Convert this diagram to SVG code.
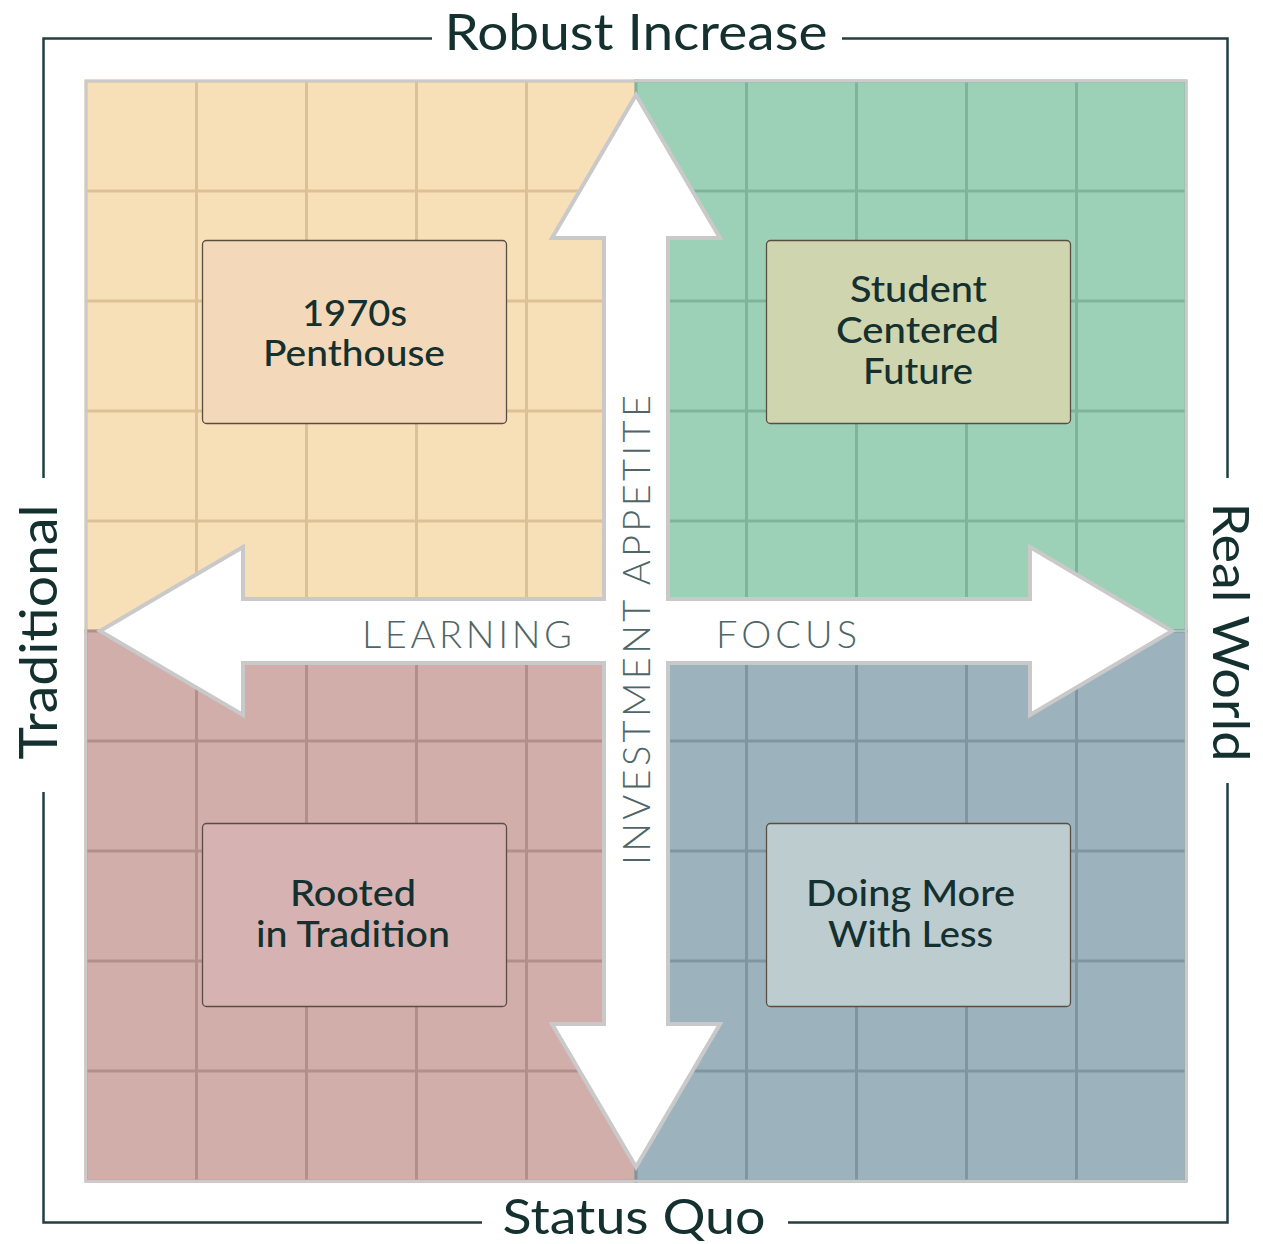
<svg xmlns="http://www.w3.org/2000/svg" width="1263" height="1244" viewBox="0 0 1263 1244">
  <style>
    .frame { fill: none; stroke: #233f41; stroke-width: 2.5; }
    .axis { font-family: Lato, "Open Sans", sans-serif; font-size: 51px; fill: #14302f; }
    .side { font-family: Lato, "Open Sans", sans-serif; font-size: 53px; fill: #14302f; }
    .mid { font-family: Lato, "Open Sans", sans-serif; font-weight: 300; font-size: 38px; fill: #4f6668; }
    .box { stroke: #5a4d42; stroke-width: 1.3; }
    .lbl { font-family: Lato, "Open Sans", sans-serif; font-weight: 500; font-size: 36px; fill: #14302f; text-anchor: middle; }
    .gl { fill: none; stroke-width: 3; }
  </style>
  <rect width="1263" height="1244" fill="#ffffff"/>

  <g id="frame">
    <path class="frame" d="M432 38.5 H43.5 V478 M43.5 792 V1222.5 H482 M788 1222.5 H1227.5 V783 M1227.5 478 V38.5 H842"/>
  </g>

  <g id="quadrant-tl">
    <rect x="86" y="81" width="550" height="550" fill="#f7dfb7" stroke="#dcc197" stroke-width="3"/>
    <path class="gl" stroke="#dcc197" d="M196.5 81V631M306.5 81V631M416.5 81V631M526.5 81V631M86 191H636M86 301H636M86 411H636M86 521H636"/>
  </g>
  <g id="quadrant-tr">
    <rect x="636" y="81" width="550" height="550" fill="#9dd1b7" stroke="#80b39b" stroke-width="3"/>
    <path class="gl" stroke="#80b39b" d="M746.5 81V631M856.5 81V631M966.5 81V631M1076.5 81V631M636 191H1186M636 301H1186M636 411H1186M636 521H1186"/>
  </g>
  <g id="quadrant-bl">
    <rect x="86" y="631" width="550" height="550" fill="#d2aeab" stroke="#b38f8c" stroke-width="3"/>
    <path class="gl" stroke="#b38f8c" d="M196.5 631V1181M306.5 631V1181M416.5 631V1181M526.5 631V1181M86 741H636M86 851H636M86 961H636M86 1071H636"/>
  </g>
  <g id="quadrant-br">
    <rect x="636" y="631" width="550" height="550" fill="#9cb3be" stroke="#80969f" stroke-width="3"/>
    <path class="gl" stroke="#80969f" d="M746.5 631V1181M856.5 631V1181M966.5 631V1181M1076.5 631V1181M636 741H1186M636 851H1186M636 961H1186M636 1071H1186"/>
  </g>
  <rect x="86" y="81" width="1100" height="1100" fill="none" stroke="#cacaca" stroke-width="2.5"/>
  <path d="M1172 631H1186" stroke="#cacaca" stroke-width="1.5"/>

  <g id="connectors">
    <path d="M636 95 L720 238 L668 238 L668 599 L1030 599 L1030 547 L1172 631 L1030 715 L1030 663 L668 663 L668 1024 L720 1024 L636 1167 L552 1024 L604 1024 L604 663 L243 663 L243 715 L100 631 L243 547 L243 599 L604 599 L604 238 L552 238 Z" fill="#ffffff" stroke="#c9c9c9" stroke-width="4" stroke-linejoin="miter"/>
  </g>

  <g id="axis-labels">
    <text class="axis" x="636" y="50" text-anchor="middle" textLength="383" lengthAdjust="spacingAndGlyphs">Robust Increase</text>
    <text class="axis" x="634" y="1233.5" text-anchor="middle" textLength="263" lengthAdjust="spacingAndGlyphs" style="font-size:49px">Status Quo</text>
    <text class="side" transform="translate(57,632) rotate(-90)" text-anchor="middle" textLength="255" lengthAdjust="spacingAndGlyphs">Traditional</text>
    <text class="side" transform="translate(1213,632) rotate(90)" text-anchor="middle" textLength="259" lengthAdjust="spacingAndGlyphs" style="font-size:50px">Real World</text>
    <text class="mid" x="467" y="648" text-anchor="middle" textLength="210" lengthAdjust="spacing">LEARNING</text>
    <text class="mid" x="786.5" y="648" text-anchor="middle" textLength="141" lengthAdjust="spacing">FOCUS</text>
    <text class="mid" transform="translate(650,630) rotate(-90)" text-anchor="middle" textLength="470" lengthAdjust="spacing">INVESTMENT APPETITE</text>
  </g>

  <g id="node-1970s-penthouse">
    <rect class="box" x="202.5" y="240.5" width="304" height="183" rx="4" fill="#f3d8b9"/>
    <text class="lbl" x="354.5" y="326" textLength="105" lengthAdjust="spacingAndGlyphs">1970s</text>
    <text class="lbl" x="354" y="366" textLength="182" lengthAdjust="spacingAndGlyphs">Penthouse</text>
  </g>
  <g id="node-student-centered-future">
    <rect class="box" x="766.5" y="240.5" width="304" height="183" rx="4" fill="#cfd5ae"/>
    <text class="lbl" x="918.5" y="302" textLength="137" lengthAdjust="spacingAndGlyphs">Student</text>
    <text class="lbl" x="917.5" y="343" textLength="163" lengthAdjust="spacingAndGlyphs">Centered</text>
    <text class="lbl" x="918" y="384" textLength="110" lengthAdjust="spacingAndGlyphs">Future</text>
  </g>
  <g id="node-rooted-in-tradition">
    <rect class="box" x="202.5" y="823.5" width="304" height="183" rx="4" fill="#d6b3b2"/>
    <text class="lbl" x="353" y="906" textLength="126" lengthAdjust="spacingAndGlyphs">Rooted</text>
    <text class="lbl" x="353" y="947" textLength="194" lengthAdjust="spacingAndGlyphs">in Tradition</text>
  </g>
  <g id="node-doing-more-with-less">
    <rect class="box" x="766.5" y="823.5" width="304" height="183" rx="4" fill="#bdcccf"/>
    <text class="lbl" x="910.5" y="906" textLength="209" lengthAdjust="spacingAndGlyphs">Doing More</text>
    <text class="lbl" x="910.5" y="947" textLength="165" lengthAdjust="spacingAndGlyphs">With Less</text>
  </g>
</svg>
